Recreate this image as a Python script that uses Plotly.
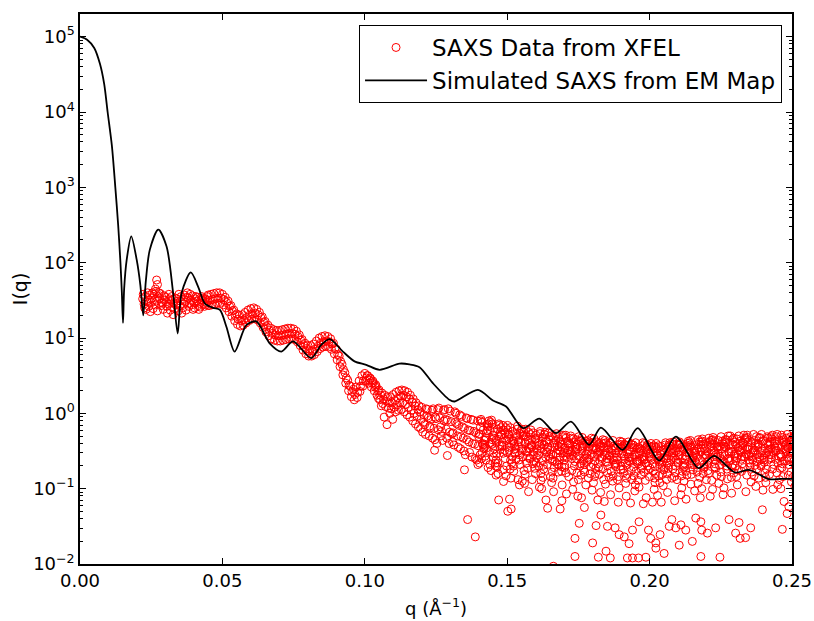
import plotly.graph_objects as go

# ---------------- Simulated SAXS from EM map (black line) ----------------
sim_q = [0.0, 0.0025, 0.0050, 0.0070, 0.0085, 0.0097, 0.0112, 0.0124, 0.0134, 0.0142,
         0.0147, 0.0151, 0.0155, 0.0164, 0.0180, 0.0199, 0.0212, 0.0222, 0.0231, 0.0245,
         0.0275, 0.0304, 0.0327, 0.0343, 0.0357, 0.0389, 0.0415, 0.0438, 0.0467, 0.0491,
         0.0514, 0.0543, 0.0584, 0.0619, 0.0666, 0.0707, 0.0748, 0.0812, 0.0847, 0.0877,
         0.0923, 0.0964, 0.1005, 0.1052, 0.1122, 0.1157, 0.1192, 0.1239, 0.1297, 0.1315,
         0.1397, 0.1450, 0.1496, 0.1556, 0.1613, 0.1671, 0.1724, 0.1788, 0.1829, 0.1905,
         0.1958, 0.2034, 0.2092, 0.2172, 0.2226, 0.2300, 0.2349, 0.2419, 0.2460, 0.2500]
sim_log_i = [5.00, 4.96, 4.85, 4.64, 4.37, 4.00, 3.55, 3.00, 2.50, 2.00,
             1.60, 1.20, 1.65, 2.04, 2.35, 2.04, 1.70, 1.30, 1.75, 2.17,
             2.44, 2.215, 1.60, 1.06, 1.60, 1.87, 1.68, 1.46, 1.40, 1.375,
             1.15, 0.82, 1.17, 1.22, 0.93, 0.82, 0.954, 0.733, 0.91, 0.985,
             0.82, 0.69, 0.644, 0.578, 0.66, 0.65, 0.613, 0.40, 0.18, 0.157,
             0.312, 0.17, 0.09, -0.197, -0.07, -0.263, -0.11, -0.418, -0.19, -0.485,
             -0.197, -0.627, -0.308, -0.728, -0.564, -0.786, -0.75, -0.874, -0.87, -0.87]

# ---------------- SAXS data from XFEL (red open circles), values as log10 I ----------------
# region A: noisy low-q band
q_a = [0.022, 0.023, 0.024, 0.025, 0.026, 0.027, 0.028, 0.029, 0.030, 0.031, 0.032, 0.033,
       0.034, 0.035, 0.036, 0.037, 0.038, 0.039, 0.040, 0.041, 0.042, 0.043, 0.044]
q_a_sub = [0.0000, 0.0005, 0.0002, 0.0007]
log_i_a = [[1.52, 1.45, 1.58, 1.40], [1.55, 1.48, 1.38, 1.60], [1.50, 1.57, 1.42, 1.35],
           [1.47, 1.60, 1.53, 1.39], [1.58, 1.44, 1.51, 1.62], [1.49, 1.55, 1.36, 1.60],
           [1.52, 1.43, 1.59, 1.47], [1.46, 1.56, 1.38, 1.50], [1.54, 1.42, 1.48, 1.33],
           [1.45, 1.52, 1.58, 1.37], [1.50, 1.41, 1.55, 1.31], [1.47, 1.53, 1.39, 1.44],
           [1.52, 1.36, 1.46, 1.58], [1.43, 1.55, 1.49, 1.33], [1.51, 1.45, 1.40, 1.57],
           [1.48, 1.54, 1.37, 1.60], [1.53, 1.46, 1.42, 1.58], [1.50, 1.56, 1.44, 1.38],
           [1.47, 1.52, 1.40, 1.55], [1.49, 1.43, 1.54, 1.38], [1.46, 1.51, 1.41, 1.55],
           [1.50, 1.45, 1.53, 1.42], [1.52, 1.47, 1.44, 1.55]]

# region B: narrow oscillating ribbon (upper edge, middle, lower edge)
q_b = [0.045, 0.046, 0.047, 0.048, 0.049, 0.050, 0.051, 0.052, 0.053, 0.054, 0.055,
       0.056, 0.057, 0.058, 0.059, 0.060, 0.061, 0.062, 0.063, 0.064, 0.065, 0.066,
       0.067, 0.068, 0.069, 0.070, 0.071, 0.072, 0.073, 0.074, 0.075, 0.076, 0.077,
       0.078, 0.079, 0.080, 0.081, 0.082, 0.083, 0.084, 0.085, 0.086, 0.087, 0.088,
       0.089, 0.090, 0.091, 0.092, 0.093, 0.094, 0.095, 0.096, 0.097, 0.098, 0.099]
log_i_b_upper = [1.57, 1.58, 1.59, 1.60, 1.60, 1.58, 1.54, 1.49, 1.43, 1.37, 1.32,
                 1.30, 1.31, 1.34, 1.37, 1.39, 1.40, 1.38, 1.34, 1.28, 1.22, 1.17,
                 1.13, 1.11, 1.10, 1.10, 1.11, 1.12, 1.13, 1.13, 1.12, 1.09, 1.04,
                 0.98, 0.93, 0.90, 0.90, 0.92, 0.96, 1.00, 1.02, 1.03, 1.02, 0.99,
                 0.93, 0.85, 0.76, 0.65, 0.54, 0.44, 0.36, 0.32, 0.35, 0.43, 0.50]
log_i_b_mid = [1.50, 1.51, 1.52, 1.53, 1.53, 1.51, 1.47, 1.42, 1.36, 1.30, 1.25,
               1.23, 1.24, 1.27, 1.30, 1.32, 1.33, 1.31, 1.27, 1.21, 1.15, 1.10,
               1.06, 1.04, 1.03, 1.03, 1.04, 1.05, 1.06, 1.06, 1.05, 1.02, 0.97,
               0.91, 0.86, 0.83, 0.83, 0.85, 0.89, 0.93, 0.95, 0.96, 0.95, 0.92,
               0.86, 0.78, 0.69, 0.58, 0.47, 0.37, 0.29, 0.25, 0.28, 0.36, 0.43]
log_i_b_lower = [1.43, 1.44, 1.45, 1.46, 1.46, 1.44, 1.40, 1.35, 1.29, 1.23, 1.18,
                 1.16, 1.17, 1.20, 1.23, 1.25, 1.26, 1.24, 1.20, 1.14, 1.08, 1.03,
                 0.99, 0.97, 0.96, 0.96, 0.97, 0.98, 0.99, 0.99, 0.98, 0.95, 0.90,
                 0.84, 0.79, 0.76, 0.76, 0.78, 0.82, 0.86, 0.88, 0.89, 0.88, 0.85,
                 0.79, 0.71, 0.62, 0.51, 0.40, 0.30, 0.22, 0.18, 0.21, 0.29, 0.36]
q_b_sub = [0.0000, 0.0005, 0.0003]

# region C: widening band
q_c = [0.100, 0.101, 0.102, 0.103, 0.104, 0.105, 0.106, 0.107, 0.108, 0.109,
       0.110, 0.111, 0.112, 0.113, 0.114, 0.115, 0.116, 0.117, 0.118, 0.119,
       0.120, 0.121, 0.122, 0.123, 0.124, 0.125, 0.126, 0.127, 0.128, 0.129,
       0.130, 0.131, 0.132, 0.133, 0.134, 0.135, 0.136, 0.137, 0.138, 0.139]
q_c_sub = [0.0000, 0.0006, 0.0003, 0.0008]
log_i_c = [[0.53, 0.47, 0.43, 0.50], [0.50, 0.44, 0.40, 0.47], [0.46, 0.40, 0.35, 0.43],
           [0.41, 0.35, 0.30, 0.38], [0.36, 0.30, 0.24, 0.20], [0.31, 0.24, 0.18, 0.10],
           [0.27, 0.19, 0.13, -0.05], [0.24, 0.16, 0.09, -0.15], [0.22, 0.14, 0.07, 0.00],
           [0.22, 0.14, 0.06, -0.08], [0.25, 0.17, 0.08, 0.02], [0.28, 0.20, 0.11, 0.04],
           [0.30, 0.23, 0.14, 0.05], [0.31, 0.24, 0.14, 0.02], [0.30, 0.22, 0.12, -0.02],
           [0.28, 0.19, 0.08, -0.05], [0.24, 0.15, 0.04, -0.10], [0.19, 0.10, 0.00, -0.14],
           [0.14, 0.05, -0.04, -0.18], [0.10, -0.20, 0.02, -0.08], [0.08, -0.12, -0.25, -0.02],
           [-0.15, 0.06, -0.28, -0.04], [0.05, -0.30, -0.06, -0.17], [-0.19, 0.04, -0.08, -0.33],
           [0.06, -0.35, -0.20, -0.05], [-0.07, 0.05, -0.40, -0.22], [0.07, -0.18, -0.06, -0.30],
           [-0.24, 0.04, -0.36, -0.10], [0.05, -0.21, -0.08, -0.33], [-0.09, -0.40, 0.06, -0.25],
           [0.03, -0.27, -0.11, -0.38], [-0.26, 0.02, -0.42, -0.12], [0.00, -0.30, -0.14, -0.45],
           [-0.16, -0.47, -0.02, -0.31], [-0.04, -0.33, -0.18, -0.50], [-0.20, -0.06, -0.55, -0.35],
           [-0.07, -0.38, -0.22, -0.52], [-0.23, -0.58, -0.08, -0.40], [-0.09, -0.41, -0.24, -0.60],
           [-0.26, -0.10, -0.62, -0.43]]

# region D: broad noisy high-q band (two groups of readings per column)
q_d = [0.140, 0.142, 0.144, 0.146, 0.148, 0.150, 0.152, 0.154, 0.156, 0.158, 0.160,
       0.162, 0.164, 0.166, 0.168, 0.170, 0.172, 0.174, 0.176, 0.178, 0.180, 0.182,
       0.184, 0.186, 0.188, 0.190, 0.192, 0.194, 0.196, 0.198, 0.200, 0.202, 0.204,
       0.206, 0.208, 0.210, 0.212, 0.214, 0.216, 0.218, 0.220, 0.222, 0.224, 0.226,
       0.228, 0.230, 0.232, 0.234, 0.236, 0.238, 0.240, 0.242, 0.244, 0.246, 0.248, 0.250]
q_d_sub = [0.0000, 0.0011, 0.0005, 0.0016, 0.0003, 0.0013, 0.0008, 0.0018, 0.0001, 0.0010]
log_i_d = [
    [-0.31, -0.12, -0.55, -0.22, -0.66, -0.40, -0.08, -0.47, -0.28, -0.60],
    [-0.45, -0.18, -0.62, -0.10, -0.35, -0.72, -0.26, -0.51, -0.41, -0.15],
    [-0.22, -0.58, -0.09, -0.47, -0.76, -0.33, -0.14, -0.66, -0.39, -0.29],
    [-0.36, -0.14, -0.71, -0.25, -0.54, -0.43, -0.80, -0.19, -0.62, -0.31],
    [-0.28, -0.49, -0.16, -0.83, -0.38, -0.60, -0.22, -0.70, -0.44, -0.33],
    [-0.52, -0.19, -0.34, -0.66, -0.27, -0.86, -0.45, -0.58, -0.16, -0.74],
    [-0.24, -0.61, -0.40, -0.17, -0.77, -0.31, -0.53, -0.88, -0.36, -0.47],
    [-0.43, -0.21, -0.68, -0.30, -0.55, -0.90, -0.38, -0.25, -0.62, -0.50],
    [-0.29, -0.57, -0.21, -0.46, -0.81, -0.35, -0.66, -0.40, -0.93, -0.52],
    [-0.60, -0.26, -0.42, -0.73, -0.22, -0.51, -0.88, -0.34, -0.47, -0.67],
    [-0.33, -0.70, -0.48, -0.24, -0.59, -0.98, -0.40, -0.80, -0.29, -0.55],
    [-0.47, -0.28, -0.85, -0.37, -0.63, -0.25, -0.74, -0.52, -1.00, -0.42],
    [-0.38, -0.61, -0.26, -0.92, -0.45, -0.54, -0.31, -0.78, -0.68, -0.49],
    [-0.55, -0.30, -0.72, -0.42, -1.04, -0.27, -0.64, -0.48, -0.86, -0.36],
    [-0.34, -0.77, -0.50, -0.29, -0.62, -0.95, -0.41, -0.57, -0.69, -0.45],
    [-0.62, -0.37, -0.29, -0.84, -0.46, -0.53, -1.07, -0.40, -0.72, -0.58],
    [-0.41, -0.56, -0.33, -0.70, -0.30, -0.91, -0.49, -0.64, -0.44, -1.01],
    [-0.52, -0.31, -0.79, -0.44, -0.60, -0.37, -1.10, -0.67, -0.48, -0.88],
    [-0.36, -0.68, -0.45, -0.95, -0.32, -0.56, -0.75, -0.41, -1.12, -0.61],
    [-0.59, -0.40, -0.86, -0.33, -0.50, -0.71, -0.45, -1.02, -0.64, -0.38],
    [-0.44, -0.73, -0.34, -0.55, -0.92, -0.48, -0.63, -1.15, -0.39, -0.80],
    [-0.67, -0.39, -0.52, -0.35, -0.81, -0.58, -1.05, -0.46, -0.72, -0.43],
    [-0.40, -0.60, -0.94, -0.47, -0.36, -0.70, -0.53, -0.85, -1.17, -0.65],
    [-0.55, -0.36, -0.77, -0.43, -1.08, -0.62, -0.49, -0.69, -0.39, -0.90],
    [-0.46, -0.84, -0.58, -0.37, -0.66, -0.99, -0.42, -0.75, -0.53, -1.18],
    [-0.70, -0.41, -0.50, -0.93, -0.38, -0.61, -0.79, -1.10, -0.46, -0.57],
    [-0.43, -0.64, -0.38, -0.76, -0.54, -1.19, -0.48, -0.88, -0.68, -0.59],
    [-0.58, -0.39, -0.83, -0.47, -0.71, -0.52, -1.03, -0.63, -0.42, -0.95],
    [-0.45, -0.74, -0.55, -0.39, -0.98, -0.61, -0.50, -1.20, -0.67, -0.82],
    [-0.62, -0.44, -0.89, -0.53, -0.40, -0.70, -1.12, -0.57, -0.78, -0.48],
    [-0.48, -0.67, -0.40, -1.01, -0.59, -0.77, -0.44, -0.86, -0.54, -1.18],
    [-0.71, -0.43, -0.56, -0.92, -0.40, -0.64, -1.09, -0.50, -0.80, -0.60],
    [-0.44, -0.59, -0.81, -0.39, -0.69, -0.52, -0.96, -0.47, -1.18, -0.75],
    [-0.60, -0.39, -0.73, -0.48, -1.05, -0.56, -0.42, -0.86, -0.66, -0.51],
    [-0.41, -0.70, -0.52, -0.88, -0.38, -0.62, -1.16, -0.46, -0.57, -0.79],
    [-0.65, -0.45, -0.38, -0.77, -0.55, -0.99, -0.49, -0.69, -0.42, -1.08],
    [-0.48, -0.82, -0.61, -0.37, -0.71, -0.44, -1.14, -0.53, -0.90, -0.58],
    [-0.39, -0.57, -0.94, -0.50, -0.36, -0.75, -0.63, -1.03, -0.45, -0.68],
    [-0.63, -0.35, -0.48, -0.85, -0.56, -0.41, -0.72, -1.12, -0.52, -0.93],
    [-0.42, -0.68, -0.34, -0.59, -1.00, -0.47, -0.80, -0.55, -0.38, -0.73],
    [-0.57, -0.38, -0.76, -0.44, -0.64, -1.10, -0.33, -0.89, -0.50, -0.61],
    [-0.36, -0.62, -0.49, -0.82, -0.32, -0.55, -0.71, -0.44, -1.01, -0.67],
    [-0.53, -0.31, -0.69, -0.40, -0.93, -0.47, -0.60, -1.08, -0.36, -0.78],
    [-0.41, -0.74, -0.56, -0.30, -0.65, -0.87, -0.45, -0.51, -0.99, -0.35],
    [-0.60, -0.35, -0.47, -0.79, -0.30, -0.68, -1.06, -0.54, -0.41, -0.72],
    [-0.38, -0.55, -0.84, -0.44, -0.63, -0.30, -0.95, -0.50, -0.70, -0.46],
    [-0.52, -0.29, -0.67, -0.36, -0.77, -0.58, -0.43, -1.04, -0.61, -0.40],
    [-0.34, -0.62, -0.48, -0.91, -0.29, -0.71, -0.55, -0.39, -0.82, -0.57],
    [-0.58, -0.40, -0.28, -0.74, -0.51, -0.97, -0.36, -0.64, -0.46, -0.69],
    [-0.45, -0.70, -0.33, -0.56, -0.86, -0.28, -0.62, -1.02, -0.41, -0.52],
    [-0.36, -0.53, -0.79, -0.42, -0.65, -0.31, -0.92, -0.48, -0.59, -0.74],
    [-0.61, -0.29, -0.47, -0.68, -0.38, -1.01, -0.55, -0.44, -0.81, -0.34],
    [-0.40, -0.66, -0.31, -0.88, -0.50, -0.57, -0.28, -0.73, -0.46, -0.95],
    [-0.55, -0.35, -0.72, -0.43, -0.29, -0.63, -0.84, -0.49, -1.00, -0.39],
    [-0.33, -0.59, -0.46, -0.78, -0.28, -0.52, -0.68, -0.91, -0.41, -0.61],
    [-0.50, -0.30, -0.64, -0.38, -0.85, -0.56, -0.44, -0.72, -0.33, -0.97],
]
q_d_core_sub = [0.0006, 0.0015, 0.0002, 0.0012, 0.0007, 0.0019]
log_i_d_core = [
    [-0.18, -0.42, -0.27, -0.52, -0.10, -0.36], [-0.33, -0.14, -0.57, -0.23, -0.46, -0.68],
    [-0.41, -0.25, -0.12, -0.53, -0.35, -0.70], [-0.21, -0.48, -0.39, -0.16, -0.66, -0.28],
    [-0.53, -0.19, -0.42, -0.27, -0.75, -0.36], [-0.29, -0.41, -0.22, -0.62, -0.49, -0.37],
    [-0.44, -0.21, -0.70, -0.28, -0.52, -0.38], [-0.27, -0.58, -0.35, -0.47, -0.24, -0.76],
    [-0.50, -0.25, -0.39, -0.73, -0.31, -0.60], [-0.35, -0.64, -0.28, -0.55, -0.44, -0.80],
    [-0.52, -0.27, -0.66, -0.43, -0.36, -0.89], [-0.32, -0.58, -0.41, -0.28, -0.69, -0.51],
    [-0.57, -0.30, -0.45, -0.84, -0.35, -0.63], [-0.39, -0.67, -0.32, -0.53, -0.45, -0.78],
    [-0.58, -0.31, -0.44, -0.71, -0.37, -0.52], [-0.33, -0.49, -0.69, -0.40, -0.79, -0.55],
    [-0.60, -0.38, -0.51, -0.34, -0.76, -0.45], [-0.41, -0.70, -0.35, -0.57, -0.47, -0.82],
    [-0.63, -0.37, -0.50, -0.78, -0.43, -0.54], [-0.44, -0.55, -0.36, -0.80, -0.61, -0.48],
    [-0.57, -0.38, -0.68, -0.46, -0.84, -0.52], [-0.45, -0.74, -0.40, -0.60, -0.50, -0.88],
    [-0.64, -0.42, -0.55, -0.79, -0.39, -0.57], [-0.47, -0.59, -0.40, -0.83, -0.53, -0.67],
    [-0.62, -0.41, -0.71, -0.50, -0.88, -0.45], [-0.44, -0.66, -0.54, -0.42, -0.74, -0.86],
    [-0.58, -0.41, -0.81, -0.51, -0.63, -0.45], [-0.46, -0.65, -0.42, -0.77, -0.55, -0.89],
    [-0.63, -0.43, -0.52, -0.70, -0.47, -0.58], [-0.46, -0.75, -0.58, -0.42, -0.66, -0.84],
    [-0.61, -0.43, -0.73, -0.52, -0.45, -0.92], [-0.47, -0.68, -0.45, -0.83, -0.55, -0.62],
    [-0.64, -0.42, -0.55, -0.73, -0.49, -0.88], [-0.45, -0.62, -0.80, -0.43, -0.69, -0.53],
    [-0.59, -0.41, -0.74, -0.50, -0.84, -0.66], [-0.42, -0.60, -0.51, -0.83, -0.40, -0.72],
    [-0.56, -0.40, -0.66, -0.47, -0.77, -0.52], [-0.44, -0.68, -0.42, -0.59, -0.81, -0.53],
    [-0.58, -0.38, -0.65, -0.46, -0.78, -0.51], [-0.37, -0.55, -0.46, -0.71, -0.41, -0.88],
    [-0.52, -0.36, -0.68, -0.45, -0.80, -0.40], [-0.41, -0.58, -0.35, -0.73, -0.52, -0.45],
    [-0.57, -0.37, -0.48, -0.84, -0.44, -0.63], [-0.35, -0.60, -0.44, -0.70, -0.38, -0.53],
    [-0.51, -0.33, -0.63, -0.42, -0.85, -0.57], [-0.34, -0.49, -0.41, -0.75, -0.59, -0.37],
    [-0.47, -0.33, -0.58, -0.72, -0.39, -0.54], [-0.38, -0.53, -0.32, -0.66, -0.45, -0.78],
    [-0.49, -0.31, -0.62, -0.43, -0.83, -0.55], [-0.32, -0.50, -0.40, -0.68, -0.58, -0.37],
    [-0.47, -0.33, -0.62, -0.40, -0.85, -0.55], [-0.31, -0.52, -0.41, -0.74, -0.59, -0.37],
    [-0.49, -0.36, -0.61, -0.43, -0.79, -0.54], [-0.32, -0.47, -0.58, -0.38, -0.67, -0.51],
    [-0.45, -0.31, -0.63, -0.38, -0.82, -0.53], [-0.36, -0.49, -0.41, -0.69, -0.30, -0.58],
]

# isolated points away from the main band
q_sparse = [0.0265, 0.0269, 0.0272, 0.1245, 0.1290, 0.1350, 0.1397, 0.1461, 0.1361, 0.1388,
            0.1470, 0.1508, 0.1502, 0.1514, 0.1487, 0.1543, 0.1575, 0.1636, 0.1642, 0.1686,
            0.1692, 0.1738, 0.1753, 0.1738, 0.1771, 0.1800, 0.1812, 0.1820, 0.1829, 0.1847,
            0.1852, 0.1862, 0.1879, 0.1893, 0.1911, 0.1928, 0.1922, 0.1940, 0.1961, 0.1987,
            0.1940, 0.1963, 0.1996, 0.2004, 0.2022, 0.2022, 0.2037, 0.2051, 0.2069, 0.2078,
            0.2092, 0.2104, 0.2110, 0.2127, 0.2150, 0.2162, 0.2180, 0.2183, 0.2180, 0.2203,
            0.2232, 0.2247, 0.2279, 0.2314, 0.2302, 0.2318, 0.2337, 0.2355, 0.2396, 0.2466,
            0.2472, 0.2483, 0.2489, 0.1662]
log_i_sparse = [1.65, 1.77, 1.71, -0.49, -0.56, -0.75, -0.68, -0.82, -1.41, -1.64,
                -1.15, -1.14, -1.30, -1.27, -0.905, -0.95, -1.04, -1.15, -1.26, -1.27,
                -1.16, -1.66, -1.46, -1.90, -1.25, -1.72, -1.49, -1.91, -1.35, -1.83,
                -1.50, -1.92, -1.52, -1.61, -1.64, -1.73, -1.92, -1.92, -1.92, -1.91,
                -1.55, -1.44, -1.55, -1.66, -1.72, -1.79, -1.61, -1.86, -1.50, -1.41,
                -1.52, -1.75, -1.48, -1.55, -1.70, -1.39, -1.44, -1.55, -1.90, -1.59,
                -1.52, -1.91, -1.41, -1.45, -1.59, -1.66, -1.65, -1.52, -1.28, -1.54,
                -1.17, -1.33, -1.24, -2.03]

# tick labels
x_tick_vals = [0.00, 0.05, 0.10, 0.15, 0.20, 0.25]
x_tick_text = ["0.00", "0.05", "0.10", "0.15", "0.20", "0.25"]
y_decades = [-2, -1, 0, 1, 2, 3, 4, 5]

# ---------------- build flat arrays ----------------
data_q, data_i = [], []
for q, vals in zip(q_a, log_i_a):
    for dq, v in zip(q_a_sub, vals):
        data_q.append(q + dq); data_i.append(10 ** v)
for q, up, mid, lo in zip(q_b, log_i_b_upper, log_i_b_mid, log_i_b_lower):
    for dq, v in zip(q_b_sub, (up, mid, lo)):
        data_q.append(q + dq); data_i.append(10 ** v)
for q, vals in zip(q_c, log_i_c):
    for dq, v in zip(q_c_sub, vals):
        data_q.append(q + dq); data_i.append(10 ** v)
for q, vals in zip(q_d, log_i_d):
    for dq, v in zip(q_d_sub, vals):
        data_q.append(q + dq); data_i.append(10 ** v)
for q, vals in zip(q_d, log_i_d_core):
    for dq, v in zip(q_d_core_sub, vals):
        data_q.append(q + dq); data_i.append(10 ** v)
for q, v in zip(q_sparse, log_i_sparse):
    data_q.append(q); data_i.append(10 ** v)

sim_i = [10 ** v for v in sim_log_i]

fig = go.Figure()
fig.add_trace(go.Scatter(
    x=data_q, y=data_i, mode="markers", name="SAXS Data from XFEL",
    marker=dict(symbol="circle-open", size=8, color="#ff0000",
                line=dict(width=1, color="#ff0000")),
    cliponaxis=True,
))
fig.add_trace(go.Scatter(
    x=sim_q, y=sim_i, mode="lines", name="Simulated SAXS from EM Map",
    line=dict(color="black", width=1.8, shape="spline", smoothing=0.8),
))

font_family = "DejaVu Sans"
y_tick_vals = [10 ** d for d in y_decades]
y_tick_text = ["10<sup>%s</sup>" % (str(d).replace("-", "\u2212")) for d in y_decades]
y_minor_vals = [k * 10 ** d for d in range(-2, 6) for k in range(2, 10) if k * 10 ** d <= 2e5]

fig.update_layout(
    width=814, height=621,
    margin=dict(l=80, r=22, t=14, b=57, autoexpand=False),
    paper_bgcolor="white", plot_bgcolor="white",
    font=dict(family=font_family, color="black"),
    showlegend=True,
    legend=dict(x=0.986, y=0.98, xanchor="right", yanchor="top",
                bordercolor="black", borderwidth=1, bgcolor="white",
                font=dict(size=23, family=font_family), itemwidth=62,
                tracegroupgap=0),
    xaxis=dict(range=[0, 0.25], tickvals=x_tick_vals, ticktext=x_tick_text,
               ticks="inside", ticklen=6, tickwidth=1, tickcolor="black",
               showline=True, linecolor="black", linewidth=1.5, mirror="allticks",
               showgrid=False, zeroline=False, automargin=False,
               tickfont=dict(size=18, family=font_family)),
    yaxis=dict(type="log", range=[-2, 5.301], tickvals=y_tick_vals, ticktext=y_tick_text,
               ticks="inside", ticklen=6, tickwidth=1, tickcolor="black",
               showline=True, linecolor="black", linewidth=1.5, mirror="allticks",
               showgrid=False, zeroline=False, automargin=False,
               tickfont=dict(size=18, family=font_family),
               minor=dict(tickvals=y_minor_vals, ticks="inside", ticklen=3,
                          tickcolor="black", showgrid=False)),
    annotations=[
        dict(text="q (\u00c5<sup>\u22121</sup>)", xref="paper", yref="paper",
             x=0.5, y=-0.1036, xanchor="center", yanchor="bottom", showarrow=False,
             font=dict(size=18, family=font_family)),
        dict(text="I(q)", xref="paper", yref="paper", x=-0.084, y=0.5,
             xanchor="center", yanchor="middle", textangle=-90, showarrow=False,
             font=dict(size=19, family=font_family)),
    ],
)

# remove the browser's default 8 px body margin so the figure fills the window exactly
fig.write_html("out.html", config={"displayModeBar": False},
               post_script="document.body.style.margin='0px';")
